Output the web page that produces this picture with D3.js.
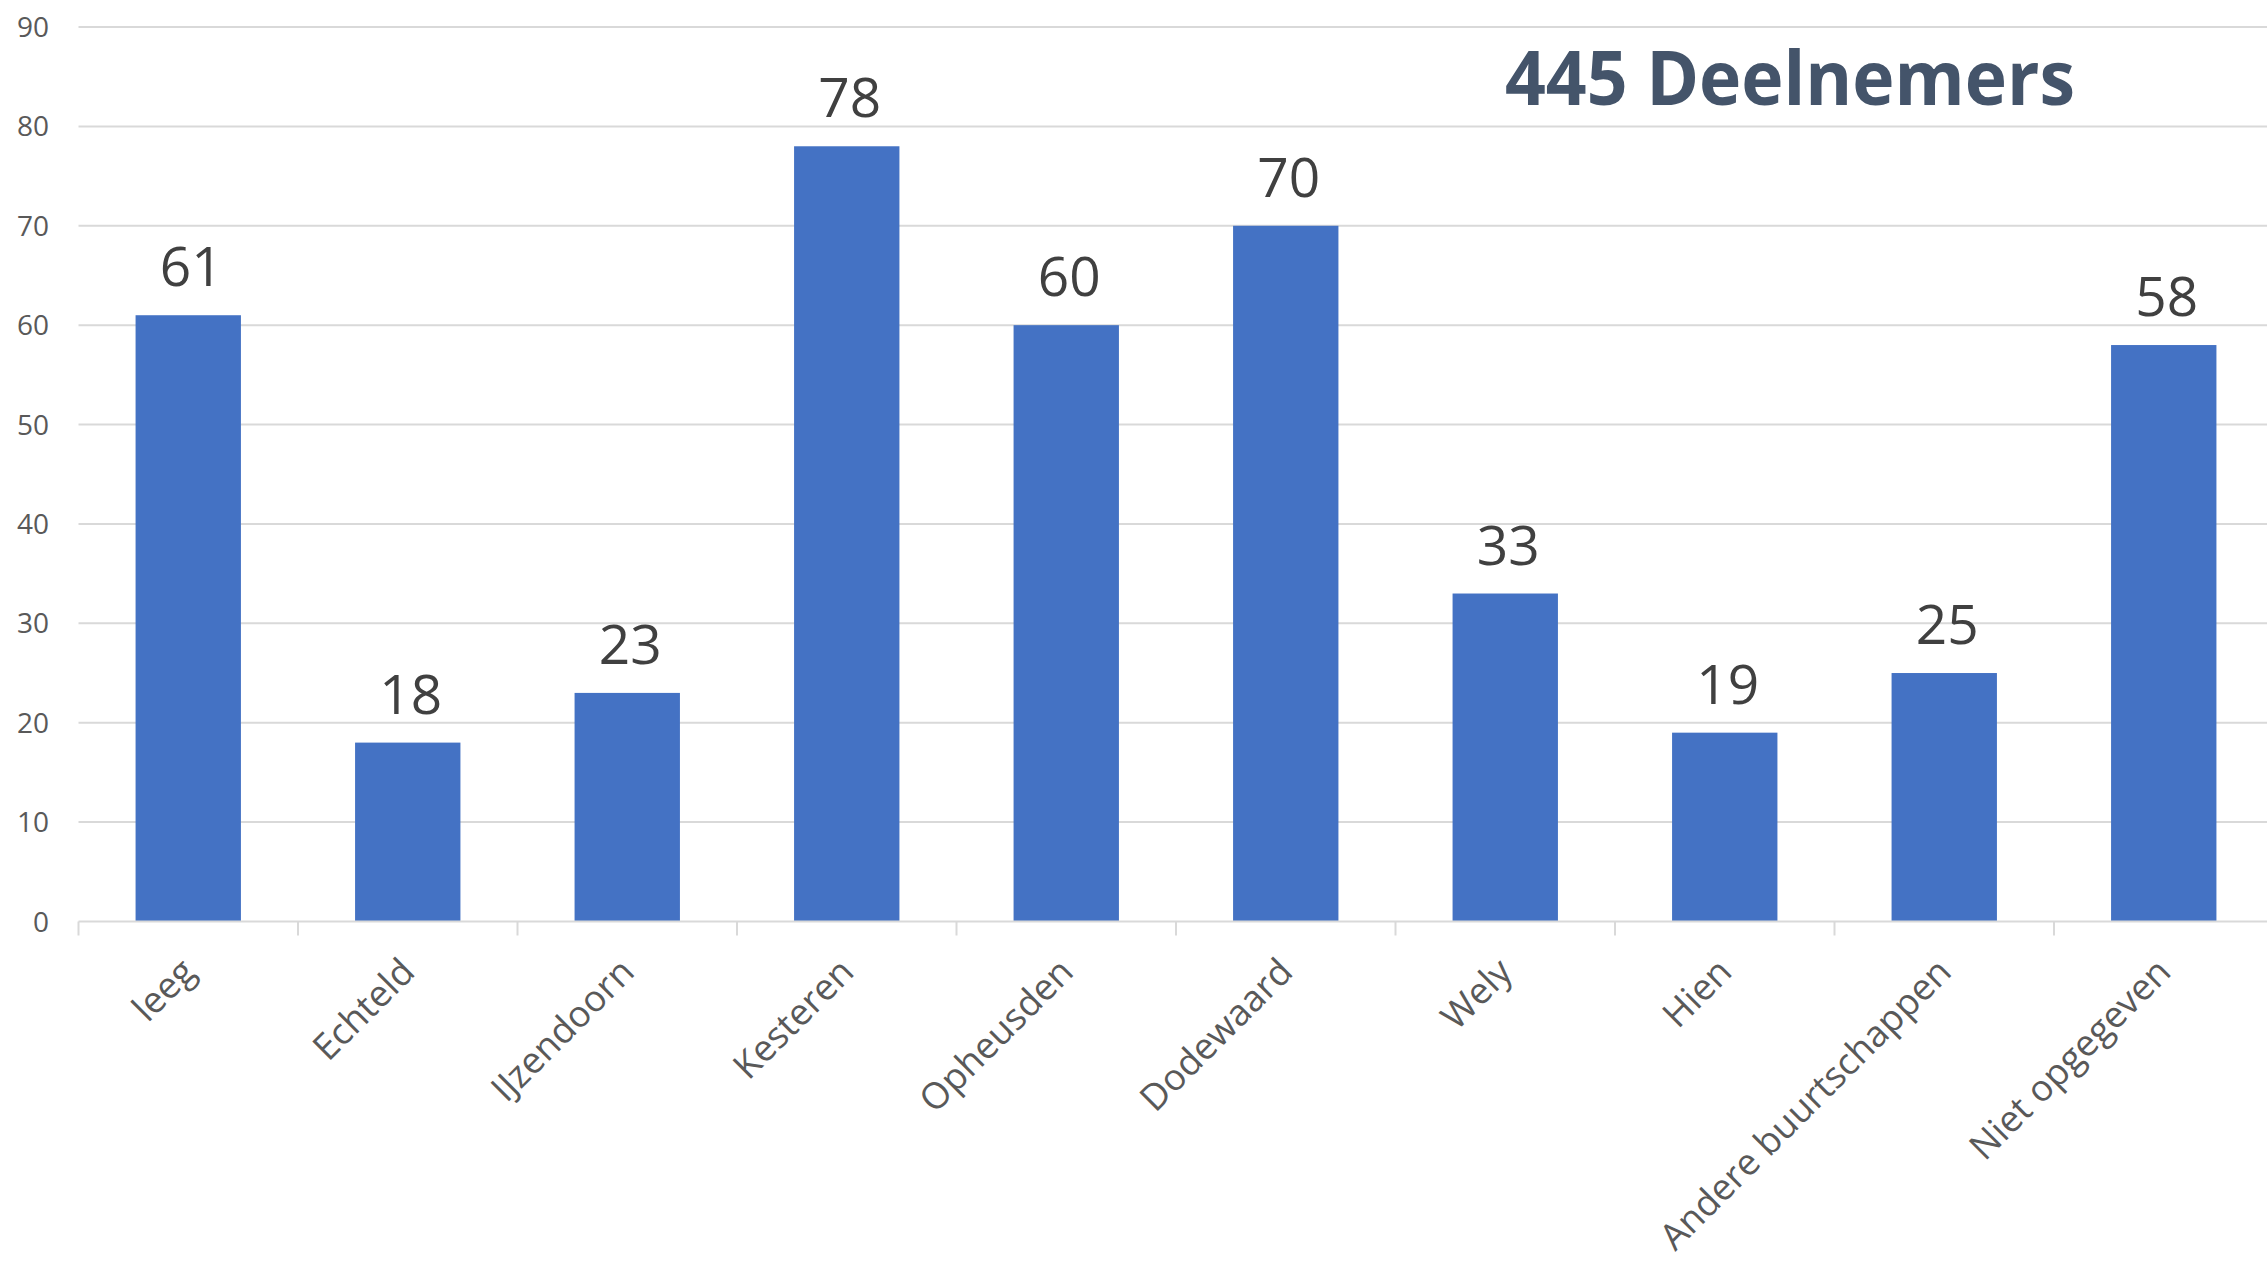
<!DOCTYPE html>
<html>
<head>
<meta charset="utf-8">
<script src="https://cdn.jsdelivr.net/npm/d3@7"></script>
<style>
  html, body { margin: 0; padding: 0; background: #ffffff; }
  svg { display: block; }
</style>
</head>
<body>
<svg id="chart" width="2267" height="1269"></svg>
<script>
const categories = ["leeg", "Echteld", "IJzendoorn", "Kesteren", "Opheusden", "Dodewaard", "Wely", "Hien", "Andere buurtschappen", "Niet opgegeven"];
const values = [61, 18, 23, 78, 60, 70, 33, 19, 25, 58];
const yTicks = [0, 10, 20, 30, 40, 50, 60, 70, 80, 90];
const titleText = "445 Deelnemers";

(function () {
const W = 2267, H = 1269;
const plotLeft = 78.5, plotRight = 2273.5, plotTop = 27, plotBottom = 921.5;

const svg = d3.select("#chart");

const x = d3.scaleBand().domain(categories).range([plotLeft, plotRight]).paddingInner(0.52).paddingOuter(0.26);
const xEdge = d3.scaleBand().domain(categories).range([plotLeft, plotRight]).padding(0);
const y = d3.scaleLinear().domain([0, 90]).range([plotBottom, plotTop]);

// gridlines
svg.append("g").selectAll("line").data(yTicks.filter(t => t > 0)).join("line")
  .attr("x1", plotLeft).attr("x2", W)
  .attr("y1", d => y(d)).attr("y2", d => y(d))
  .attr("stroke", "#d9d9d9").attr("stroke-width", 2);

// y tick labels
svg.append("g").selectAll("text").data(yTicks).join("text")
  .attr("x", 49).attr("y", d => y(d))
  .attr("dy", "0.36em")
  .attr("text-anchor", "end")
  .attr("font-family", "'Open Sans', sans-serif")
  .attr("font-size", 28)
  .attr("fill", "#595959")
  .text(d => d);

// bars
svg.append("g").selectAll("rect").data(values).join("rect")
  .attr("x", (d, i) => x(categories[i]))
  .attr("width", x.bandwidth())
  .attr("y", d => y(d))
  .attr("height", d => y(0) - y(d))
  .attr("fill", "#4472c4");

// x axis line
svg.append("line")
  .attr("x1", plotLeft).attr("x2", W)
  .attr("y1", plotBottom).attr("y2", plotBottom)
  .attr("stroke", "#d9d9d9").attr("stroke-width", 2);

// category boundary ticks
const edges = categories.map(c => xEdge(c)).concat([plotRight]);
svg.append("g").selectAll("line").data(edges).join("line")
  .attr("x1", d => d).attr("x2", d => d)
  .attr("y1", plotBottom).attr("y2", plotBottom + 14)
  .attr("stroke", "#d9d9d9").attr("stroke-width", 2);

// data labels
svg.append("g").selectAll("text").data(values).join("text")
  .attr("x", (d, i) => x(categories[i]) + x.bandwidth() / 2 + 3)
  .attr("y", d => y(d) - 29)
  .attr("text-anchor", "middle")
  .attr("font-family", "'Open Sans', sans-serif")
  .attr("font-size", 55)
  .attr("fill", "#404040")
  .text(d => d);

// category labels (rotated)
svg.append("g").selectAll("text").data(categories).join("text")
  .attr("transform", c => `translate(${x(c) + x.bandwidth() / 2 + 9},${974}) rotate(-45)`)
  .attr("text-anchor", "end")
  .attr("font-family", "'Open Sans', sans-serif")
  .attr("font-size", 36.5)
  .attr("fill", "#595959")
  .text(c => c);

// title
svg.append("text")
  .attr("x", 1505).attr("y", 105)
  .attr("font-family", "'Open Sans', sans-serif")
  .attr("font-weight", "bold")
  .attr("font-size", 76)
  .attr("fill", "#44546a")
  .attr("textLength", 570)
  .attr("lengthAdjust", "spacingAndGlyphs")
  .text(titleText);
})();
</script>
</body>
</html>
